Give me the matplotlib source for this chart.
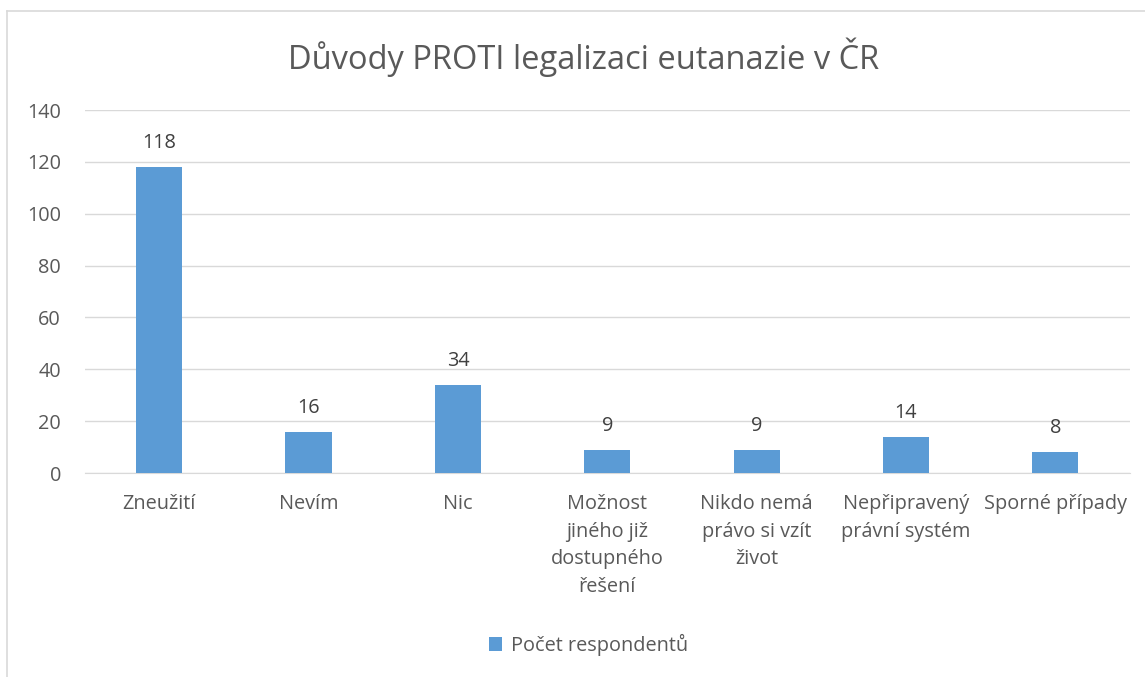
import matplotlib
matplotlib.use("Agg")
import matplotlib.pyplot as plt
from matplotlib.patches import Patch
from matplotlib.lines import Line2D

categories = ["Zneužití", "Nevím", "Nic", "Možnost\njiného již\ndostupného\nřešení",
              "Nikdo nemá\nprávo si vzít\nživot", "Nepřipravený\nprávní systém", "Sporné případy"]
values = [118, 16, 34, 9, 9, 14, 8]
yticks = [0, 20, 40, 60, 80, 100, 120, 140]
title = "Důvody PROTI legalizaci eutanazie v ČR"
legend_label = "Počet respondentů"

bar_color = "#5B9BD5"
text_color = "#595959"
grid_color = "#D9D9D9"

plt.rcParams['font.family'] = ['Open Sans', 'DejaVu Sans']

fs = 14.3

fig = plt.figure(figsize=(11.45, 6.77), dpi=100)
ax = fig.add_axes([0.0739, 0.3013, 0.9130, 0.5362])

x = list(range(len(categories)))
bars = ax.bar(x, values, width=0.31, color=bar_color, zorder=3)
ax.set_xlim(-0.5, len(categories) - 0.5)
ax.set_ylim(0, 140)
ax.set_yticks(yticks)
ax.set_yticklabels([str(v) for v in yticks], fontsize=fs, color=text_color)
ax.set_xticks(x)
ax.set_xticklabels(categories, fontsize=fs, color=text_color, linespacing=1.51, va="top")
ax.tick_params(axis="both", length=0)
ax.tick_params(axis="y", pad=17)
ax.tick_params(axis="x", pad=15)
ax.grid(axis="y", color=grid_color, linewidth=1, zorder=0)
for s in ["top", "right", "left"]:
    ax.spines[s].set_visible(False)
ax.spines["bottom"].set_color(grid_color)

for xi, v in zip(x, values):
    ax.annotate(str(v), (xi, v), xytext=(0, 10), textcoords="offset points",
                ha="center", va="bottom", fontsize=fs, color="#404040")

fig.text(0.51, 0.915, title, ha="center", va="center", fontsize=23.5, color=text_color)

handles = [Patch(facecolor=bar_color, edgecolor="none")]
fig.legend(handles, [legend_label], loc="center", bbox_to_anchor=(0.514, 0.047),
           frameon=False, fontsize=fs, labelcolor=text_color, handlelength=0.7,
           handleheight=0.7, handletextpad=0.45)

# figure border (left and top visible)
fig.add_artist(Line2D([0.0065, 0.0065], [0, 0.984], transform=fig.transFigure, color=grid_color, linewidth=1.2))
fig.add_artist(Line2D([0.0065, 1.0], [0.984, 0.984], transform=fig.transFigure, color=grid_color, linewidth=1.2))

fig.savefig("out.png", dpi=100, facecolor="white")
